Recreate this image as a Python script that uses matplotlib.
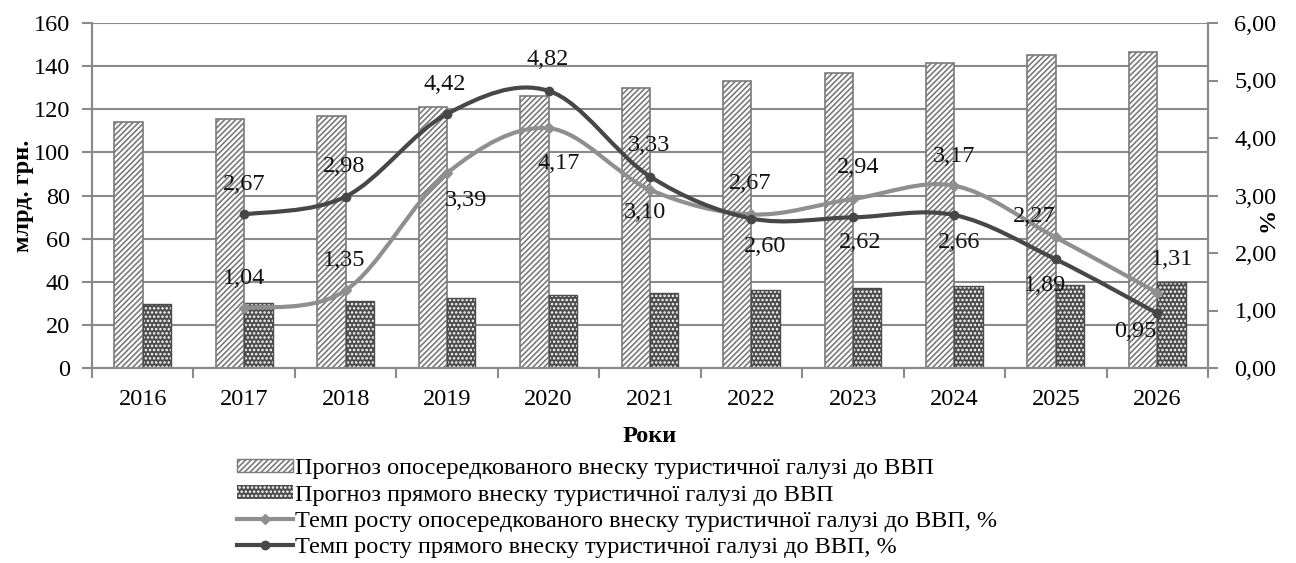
import numpy as np
import matplotlib
matplotlib.use("Agg")
import matplotlib.pyplot as plt
import matplotlib.patches as mpatches
from matplotlib.lines import Line2D
from matplotlib.path import Path

# ── Data ──────────────────────────────────────────────────────────────────────
years = ["2016", "2017", "2018", "2019", "2020", "2021",
         "2022", "2023", "2024", "2025", "2026"]
indirect_gdp = [114, 115.5, 117, 121, 126, 130, 133, 137, 141.5, 145, 146.5]
direct_gdp = [29.5, 30, 31, 32.5, 34, 35, 36, 37, 38, 38.5, 40]

# growth rates start in 2017
indirect_rate = [1.04, 1.35, 3.39, 4.17, 3.10, 2.67, 2.94, 3.17, 2.27, 1.31]
direct_rate = [2.67, 2.98, 4.42, 4.82, 3.33, 2.60, 2.62, 2.66, 1.89, 0.95]

left_ticks = [0, 20, 40, 60, 80, 100, 120, 140, 160]
right_ticks = [0, 1, 2, 3, 4, 5, 6]

legend_labels = [
    "Прогноз опосередкованого внеску туристичної галузі до ВВП",
    "Прогноз прямого внеску туристичної галузі до ВВП",
    "Темп росту опосередкованого внеску туристичної галузі до ВВП, %",
    "Темп росту прямого внеску туристичної галузі до ВВП, %",
]

# label offsets in pixels (dx, dy)
indirect_off = [(0, 30), (-2, 30), (19, -27), (10, -35), (-5, -23),
                (-1, 31), (5, 31), (0, 29), (-22, 21), (15, 33)]
direct_off = [(0, 30), (-2, 30), (-2, 29), (-1, 31), (-1, 31),
              (14, -28), (7, -25), (5, -27), (-11, -26), (-22, -18)]

# ── Style ─────────────────────────────────────────────────────────────────────
plt.rcParams["font.family"] = ["Liberation Serif", "DejaVu Serif"]
plt.rcParams["hatch.linewidth"] = 1.2
GRID = "#8a8a8a"
DARK = "#474747"
LIGHT = "#8f8f8f"
DOTS = "#4c4c4c"
FS = 17.5


def smooth_path(xs, ys):
    """Excel-like smoothed line: Catmull-Rom converted to cubic Bezier."""
    pts = np.column_stack([xs, ys]).astype(float)
    n = len(pts)
    verts = [pts[0]]
    codes = [Path.MOVETO]
    for i in range(n - 1):
        p0 = pts[max(i - 1, 0)]
        p1 = pts[i]
        p2 = pts[i + 1]
        p3 = pts[min(i + 2, n - 1)]
        c1 = p1 + (p2 - p0) / 6.0
        c2 = p2 - (p3 - p1) / 6.0
        verts += [c1, c2, p2]
        codes += [Path.CURVE4] * 3
    return Path(verts, codes)


fig = plt.figure(figsize=(12.96, 5.63), dpi=100)
ax = fig.add_axes([92 / 1296, 1 - 368 / 563, (1208 - 92) / 1296, (368 - 23) / 563])
ax2 = ax.twinx()

x = np.arange(len(years))
w = 0.28

ax.bar(x - w / 2, indirect_gdp, w, facecolor="white", edgecolor="#7a7a7a",
       hatch="//////", linewidth=1.2, zorder=3)
# dark bars with white dot pattern
ax.bar(x + w / 2, direct_gdp, w, facecolor=DOTS, edgecolor="white",
       hatch="....", linewidth=0, zorder=3)
ax.bar(x + w / 2, direct_gdp, w, fill=False, edgecolor=DOTS,
       linewidth=1.0, zorder=3)

ax.set_ylim(0, 160)
ax.set_xlim(-0.5, len(years) - 0.5)
ax.set_yticks(left_ticks)
ax.set_yticklabels([str(t) for t in left_ticks], fontsize=FS)
ax.yaxis.grid(True, color=GRID, linewidth=1.5, zorder=0)
ax.set_axisbelow(True)

ax.set_xticks(x)
ax.set_xticklabels(years, fontsize=FS)
ax.set_xticks(np.arange(-0.5, len(years)), minor=True)
ax.tick_params(axis="x", which="major", length=0, pad=15)
ax.tick_params(axis="x", which="minor", length=7, width=1.5, color=GRID)
ax.tick_params(axis="y", length=7, width=1.5, color=GRID, pad=9)

fig.text(24 / 1296, 1 - 196 / 563, "млрд. грн.", fontsize=FS, fontweight="bold",
         rotation=90, ha="center", va="center")
fig.text(650 / 1296, 1 - 437 / 563, "Роки", fontsize=FS, fontweight="bold",
         ha="center", va="center")

for name, sp in ax.spines.items():
    sp.set_color(GRID)
    sp.set_linewidth(1.5)
ax.spines["top"].set_visible(False)

# ── Growth-rate lines ─────────────────────────────────────────────────────────
xr = x[1:]
ax2.set_ylim(0, 6)
ax2.add_patch(mpatches.PathPatch(smooth_path(xr, indirect_rate), fill=False,
                                 edgecolor=LIGHT, linewidth=3, zorder=4))
ax2.add_patch(mpatches.PathPatch(smooth_path(xr, direct_rate), fill=False,
                                 edgecolor=DARK, linewidth=3, zorder=5))
ax2.plot(xr, indirect_rate, linestyle="none", marker="D", markersize=5,
         color=LIGHT, zorder=6)
ax2.plot(xr, direct_rate, linestyle="none", marker="o", markersize=6,
         color=DARK, zorder=6)

for xi, v, (dx, dy) in zip(xr, indirect_rate, indirect_off):
    ax2.annotate(f"{v:.2f}".replace(".", ","), (xi, v), xytext=(dx, dy),
                 textcoords="offset pixels", ha="center", va="center",
                 fontsize=FS, color="#111111", zorder=7)
for xi, v, (dx, dy) in zip(xr, direct_rate, direct_off):
    ax2.annotate(f"{v:.2f}".replace(".", ","), (xi, v), xytext=(dx, dy),
                 textcoords="offset pixels", ha="center", va="center",
                 fontsize=FS, color="#111111", zorder=7)

ax2.set_yticks(right_ticks)
ax2.set_yticklabels([f"{t:.2f}".replace(".", ",") for t in right_ticks], fontsize=FS)
ax2.tick_params(axis="y", length=7, width=1.5, color=GRID, pad=12)
fig.text(1268 / 1296, 1 - 220 / 563, "%", fontsize=FS, fontweight="bold",
         rotation=90, ha="center", va="center")
for name, sp in ax2.spines.items():
    sp.set_color(GRID)
    sp.set_linewidth(1.5)
ax2.spines["top"].set_visible(False)

# ── Legend ────────────────────────────────────────────────────────────────────
handles = [
    mpatches.Patch(facecolor="white", edgecolor="#7a7a7a", hatch="//////",
                   linewidth=1.0),
    mpatches.Patch(facecolor=DOTS, edgecolor="white", hatch="....",
                   linewidth=0),
    Line2D([], [], color=LIGHT, linewidth=3, marker="D", markersize=5),
    Line2D([], [], color=DARK, linewidth=3, marker="o", markersize=6),
]
fig.legend(handles, legend_labels, loc="upper left",
           bbox_to_anchor=(225 / 1296, 1 - 446 / 563), frameon=False,
           fontsize=FS, handlelength=2.3, handleheight=0.5,
           handletextpad=0.1, labelspacing=0.22, borderpad=0)

fig.savefig("out.png", dpi=100)
